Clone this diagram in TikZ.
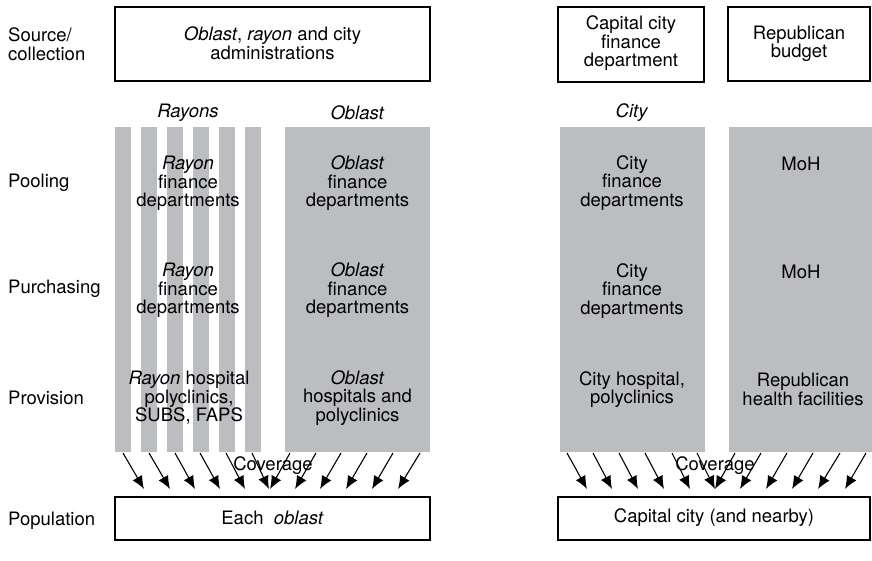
\documentclass[tikz,border=0pt]{standalone}
\usepackage{fontspec}
\setmainfont{TeX Gyre Heros}
\usetikzlibrary{arrows.meta}
\definecolor{colgray}{RGB}{188,189,193}
\begin{document}
\begin{tikzpicture}[x=1pt,y=-1pt,
  txt/.style={font=\fontsize{18.5}{18.5}\selectfont, align=center, inner sep=0pt},
  box/.style={draw=black, line width=1.3pt, inner sep=0pt, fill=white},
  gcol/.style={fill=colgray, draw=none, inner sep=0pt, minimum height=325},
  arr/.style={-{Latex[length=13pt,width=11pt]}, line width=1.1pt}]
\useasboundingbox (0,0) rectangle (872,561);

% top boxes
\node[box, minimum width=315, minimum height=74] (src) at (272.5,44) {};
\node[txt] (srct) at ([yshift=1]src.center) {\textit{Oblast}, \textit{rayon} and city\\administrations};
\node[box, minimum width=146, minimum height=75] (cap) at (631,44.5) {};
\node[txt] (capt) at ([yshift=1]cap.center) {Capital city\\finance\\department};
\node[box, minimum width=142, minimum height=74] (rep) at (799,44) {};
\node[txt] (rept) at ([yshift=0]rep.center) {Republican\\budget};

% row labels
\node[txt, align=left, anchor=west] (lsrc) at (8,44) {Source/\\collection};
\node[txt, anchor=west] (lpool) at (8,183) {Pooling};
\node[txt, anchor=west] (lpur) at (8,289) {Purchasing};
\node[txt, anchor=west] (lprov) at (8,398) {Provision};
\node[txt, anchor=west] (lpop) at (8,521) {Population};

% column headers
\node[txt] (hray) at (188,113) {\textit{Rayons}};
\node[txt] (hobl) at (357.5,113) {\textit{Oblast}};
\node[txt] (hcity) at (632,113) {\textit{City}};

% grey columns
\foreach \i/\x in {1/115,2/141,3/167,4/193,5/219,6/245}
  \node[gcol, minimum width=16, anchor=north west] (s\i) at (\x,127) {};
\node[gcol, minimum width=145, anchor=north west] (obl) at (285,127) {};
\node[gcol, minimum width=145, anchor=north west] (city) at (560,127) {};
\node[gcol, minimum width=143, anchor=north west] (moh) at (729,127) {};

% texts in columns
\node[txt] (rpool) at (188,183.5) {\textit{Rayon}\\finance\\departments};
\node[txt] (rpur) at (188,290.5) {\textit{Rayon}\\finance\\departments};
\node[txt] (rprov) at (189,398) {\textit{Rayon} hospital\\polyclinics,\\SUBS, FAPS};
\node[txt] (opool) at (357.5,183.5) {\textit{Oblast}\\finance\\departments};
\node[txt] (opur) at (357.5,290.5) {\textit{Oblast}\\finance\\departments};
\node[txt] (oprov) at (357.5,398) {\textit{Oblast}\\hospitals and\\polyclinics};
\node[txt] (cpool) at (632,183) {City\\finance\\departments};
\node[txt] (cpur) at (632,291) {City\\finance\\departments};
\node[txt] (cprov) at (632,389.5) {City hospital,\\polyclinics};
\node[txt] (mpool) at (801,163.5) {MoH};
\node[txt] (mpur) at (801,271.5) {MoH};
\node[txt] (mprov) at (803,389.5) {Republican\\health facilities};

% population boxes
\node[box, minimum width=315, minimum height=43] (pop1) at (272.5,518.5) {};
\node[txt] (pop1t) at ([yshift=1]pop1.center) {Each \ \textit{oblast}};
\node[box, minimum width=312, minimum height=43] (pop2) at (714,518.5) {};
\node[txt] (pop2t) at ([yshift=1]pop2.center) {Capital city (and nearby)};

% arrows
\foreach \i/\a/\b in {1/123/144,2/149/170,3/175/195,4/200/220,5/226/245,6/252/269,
                      7/290/270,8/316/295,9/341/320,10/367/346,11/393/372,12/420/398,
                      13/567/587,14/593/612,15/619/638,16/645/664,17/672/690,18/697/715,
                      19/735/715,20/761/740,21/787/766,22/813/792,23/840/818,24/866/845}{
  \coordinate (as\i) at (\a,453);
  \coordinate (ae\i) at (\b,489);
  \draw[arr] (as\i) -- (ae\i);
}

\node[txt] (cov1) at (273,466) {Coverage};
\node[txt] (cov2) at (715,466) {Coverage};
\end{tikzpicture}
\end{document}
